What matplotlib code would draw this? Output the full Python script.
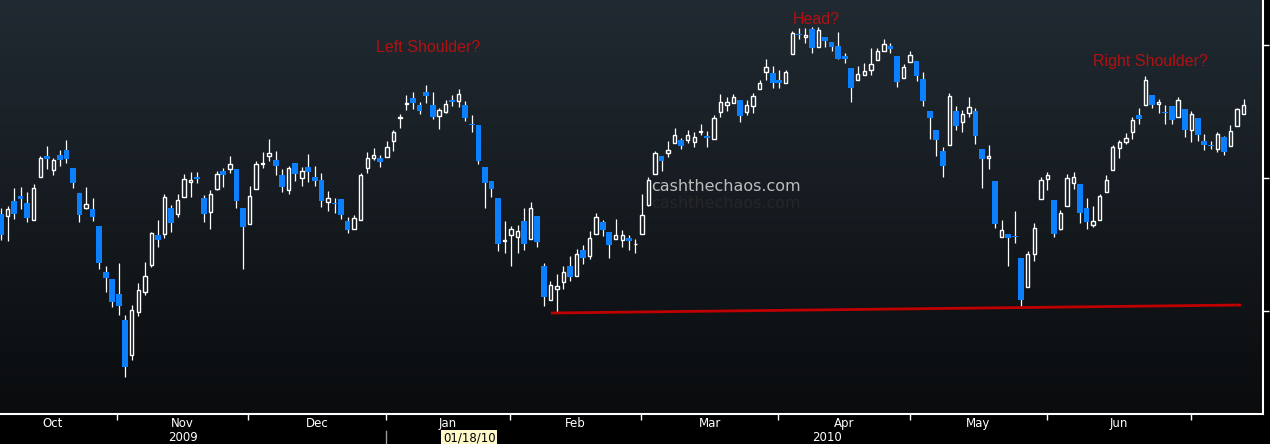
import numpy as np
import matplotlib
matplotlib.use("Agg")
import matplotlib.pyplot as plt
import matplotlib.transforms as mtransforms
from matplotlib.colors import LinearSegmentedColormap

# daily candles, Oct 2009 - early Jul 2010 (price scale)
opens = [286, 284, 299, 304, 297, 280, 323, 344, 330, 345,
         350, 332, 307, 292, 291, 274, 228, 221, 206, 180,
         145, 188, 208, 235, 265, 266, 292, 286, 303, 318,
         323, 302, 288, 311, 329, 331, 331, 292, 276, 311,
         336, 344, 340, 325, 310, 337, 322, 333, 323, 320,
         298, 297, 301, 279, 271, 280, 332, 342, 342, 343,
         359, 382, 396, 402, 395, 408, 395, 384, 388, 400,
         399, 395, 376, 375, 333, 319, 302, 259, 265, 263,
         279, 261, 284, 234, 200, 211, 218, 234, 224, 250,
         244, 266, 278, 268, 261, 260, 262, 256, 266, 295,
         326, 344, 347, 357, 360, 360, 358, 368, 364, 361,
         388, 395, 397, 400, 388, 394, 411, 428, 427, 420,
         417, 446, 466, 463, 471, 453, 463, 458, 454, 444,
         432, 420, 425, 430, 440, 449, 454, 444, 422, 438,
         439, 421, 389, 370, 349, 355, 389, 378, 387, 389,
         351, 342, 319, 263, 266, 264, 242, 213, 246, 301,
         321, 300, 271, 294, 317, 316, 292, 275, 280, 308,
         330, 352, 358, 368, 385, 395, 405, 396, 388, 394,
         383, 391, 370, 382, 359, 355, 351, 363, 354, 374,
         386]
highs = [292, 294, 312, 313, 308, 316, 344, 354, 342, 350,
         360, 332, 307, 313, 302, 274, 234, 221, 237, 185,
         195, 217, 238, 268, 280, 306, 295, 306, 326, 328,
         328, 305, 310, 329, 332, 344, 331, 292, 314, 339,
         348, 361, 349, 331, 334, 337, 333, 346, 334, 327,
         309, 302, 301, 283, 285, 327, 348, 352, 345, 359,
         370, 386, 405, 408, 398, 415, 408, 392, 400, 405,
         411, 399, 385, 375, 333, 319, 302, 279, 274, 275,
         292, 298, 284, 237, 219, 226, 234, 244, 251, 255,
         269, 287, 280, 268, 281, 270, 265, 261, 306, 323,
         349, 344, 359, 372, 362, 370, 368, 376, 369, 385,
         406, 403, 406, 400, 400, 407, 420, 441, 434, 430,
         430, 469, 472, 472, 473, 473, 463, 458, 468, 447,
         432, 434, 437, 452, 452, 461, 457, 444, 436, 449,
         439, 428, 389, 370, 353, 407, 394, 390, 403, 392,
         351, 355, 319, 280, 266, 289, 242, 249, 277, 323,
         328, 300, 290, 326, 328, 316, 302, 294, 306, 325,
         355, 360, 367, 383, 392, 424, 405, 401, 395, 394,
         403, 391, 389, 382, 366, 359, 368, 364, 375, 392,
         401]
lows = [260, 259, 281, 291, 278, 280, 323, 331, 325, 334,
        337, 312, 278, 291, 279, 231, 208, 193, 185, 123,
        140, 184, 205, 233, 253, 262, 268, 283, 303, 303,
        317, 278, 271, 310, 313, 327, 292, 231, 276, 311,
        332, 339, 325, 308, 306, 319, 314, 318, 314, 293,
        289, 287, 281, 267, 271, 280, 327, 340, 333, 343,
        349, 372, 390, 391, 386, 397, 381, 371, 387, 394,
        393, 379, 368, 336, 292, 303, 249, 247, 234, 247,
        250, 261, 253, 194, 200, 187, 211, 219, 224, 236,
        241, 266, 264, 242, 261, 253, 250, 247, 266, 294,
        326, 329, 343, 357, 351, 357, 353, 365, 353, 361,
        383, 389, 397, 378, 385, 387, 411, 420, 412, 412,
        417, 446, 461, 457, 447, 453, 453, 449, 441, 437,
        398, 420, 425, 425, 440, 449, 447, 413, 422, 438,
        419, 394, 361, 344, 323, 355, 370, 368, 383, 356,
        312, 331, 272, 263, 234, 257, 193, 213, 239, 301,
        310, 263, 270, 294, 311, 277, 271, 273, 280, 308,
        330, 342, 356, 361, 376, 395, 392, 387, 376, 376,
        383, 363, 358, 359, 350, 351, 348, 345, 354, 374,
        386]
closes = [265, 291, 286, 301, 282, 312, 342, 341, 340, 340,
          341, 317, 285, 296, 283, 237, 222, 198, 194, 133,
          190, 210, 224, 267, 260, 303, 277, 300, 321, 320,
          321, 286, 306, 326, 325, 336, 299, 273, 304, 336,
          337, 347, 334, 313, 332, 326, 329, 328, 319, 299,
          302, 296, 285, 270, 282, 325, 342, 345, 338, 353,
          368, 383, 397, 397, 389, 404, 383, 390, 396, 398,
          406, 382, 375, 339, 317, 311, 256, 260, 271, 269,
          256, 292, 258, 203, 215, 214, 228, 223, 246, 242,
          262, 283, 270, 255, 265, 265, 259, 256, 285, 320,
          347, 339, 350, 365, 354, 365, 363, 369, 362, 382,
          398, 398, 403, 384, 395, 404, 417, 433, 417, 417,
          428, 467, 465, 465, 452, 470, 459, 453, 441, 441,
          412, 426, 429, 436, 449, 456, 451, 418, 433, 445,
          424, 399, 382, 360, 334, 404, 374, 386, 393, 364,
          341, 344, 276, 270, 262, 263, 200, 246, 272, 320,
          325, 266, 287, 322, 323, 287, 278, 279, 304, 320,
          353, 358, 362, 380, 381, 420, 395, 398, 387, 380,
          400, 370, 386, 365, 355, 354, 366, 348, 369, 391,
          395]

month_names = ["Oct", "Nov", "Dec", "Jan", "Feb", "Mar", "Apr", "May", "Jun"]
month_starts = [-2.1, 17.8, 37.8, 58.9, 77.8, 97.9, 118.8, 139.0, 159.9, 182.0]
year_names = ["2009", "2010"]
year_pos = [27.8, 126.3]
cursor_label = "01/18/10"
cursor_pos = 71.6
neck_x = [84.1, 189.6]
neck_y = [187, 195]
notes = ["Left Shoulder?", "Head?", "Right Shoulder?"]
notes_x = [65.3, 124.6, 175.8]
notes_y = [453, 481, 439]


def main():
    o = np.array(opens, float)
    h = np.array(highs, float)
    l = np.array(lows, float)
    c = np.array(closes, float)
    x = np.arange(len(o))
    up = c >= o

    fig = plt.figure(figsize=(12.7, 4.44), dpi=100, facecolor="black")
    ax = fig.add_axes([0, 30 / 444, 1263 / 1270, 414 / 444])
    ax.set_xlim(-0.153, 192.97)
    ax.set_ylim(86, 500)

    # dark slate gradient behind the candles
    bg = LinearSegmentedColormap.from_list("bg", ["#212a32", "#0a0c0e"])
    ax.imshow(np.linspace(0, 1, 256).reshape(-1, 1), cmap=bg, aspect="auto",
              extent=[0, 1, 0, 1], transform=ax.transAxes, zorder=0)

    # wicks
    ax.vlines(x[~up], l[~up], h[~up], color="white", lw=0.9, zorder=2)
    ax.vlines(x[up], c[up], h[up], color="white", lw=0.9, zorder=2)
    ax.vlines(x[up], l[up], o[up], color="white", lw=0.9, zorder=2)

    # bodies
    ax.bar(x[~up], (o - c)[~up], bottom=c[~up], width=0.88,
           color="#0a80ff", linewidth=0, zorder=3)
    ax.bar(x[up], (c - o)[up], bottom=o[up], width=0.52,
           facecolor="none", edgecolor="white", linewidth=1.0, zorder=3)

    # neckline
    ax.plot(neck_x, neck_y, color="#c00000", lw=2, solid_capstyle="butt", zorder=4)

    for txt, tx, ty in zip(notes, notes_x, notes_y):
        ax.text(tx, ty, txt, color="#b01212", fontsize=11.5, family="Liberation Sans",
                ha="center", va="center", zorder=5)

    # watermark with its dark reflection underneath
    ax.text(110.9, 314, "cashthechaos.com", color="#bdbdbd", fontsize=11.5,
            ha="center", va="center", zorder=1)
    ax.text(110.9, 297, "cashthechaos.com", color="#262626", fontsize=11.5,
            ha="center", va="center", zorder=1)

    for s in ["top", "left"]:
        ax.spines[s].set_visible(False)
    for s in ["bottom", "right"]:
        ax.spines[s].set_color("white")
        ax.spines[s].set_linewidth(1.5)

    ax.set_xticks(month_starts[1:])
    ax.set_yticks([455, 322, 189])
    ax.tick_params(colors="white", length=4, width=1, labelbottom=False,
                   labelleft=False, left=False, right=True)

    trans = mtransforms.blended_transform_factory(ax.transData, fig.transFigure)
    mids = [(month_starts[i] + month_starts[i + 1]) / 2 for i in range(len(month_names))]
    for name, m in zip(month_names, mids):
        fig.text(m, 1 - 423 / 444, name, transform=trans, color="white",
                 fontsize=8.5, ha="center", va="center")
    for name, m in zip(year_names, year_pos):
        fig.text(m, 1 - 437 / 444, name, transform=trans, color="white",
                 fontsize=8.5, ha="center", va="center")
    fig.add_artist(plt.Line2D([month_starts[3]] * 2, [0, 1 - 431 / 444],
                              transform=trans, color="#9a9a9a", lw=1))
    fig.text(cursor_pos, 1 - 438 / 444, cursor_label, transform=trans, color="black",
             fontsize=8.5, ha="center", va="center",
             bbox=dict(boxstyle="square,pad=0.15", fc="#fff8c8", ec="none"))

    fig.savefig("out.png", dpi=100, facecolor="black")


if __name__ == '__main__':
    main()
